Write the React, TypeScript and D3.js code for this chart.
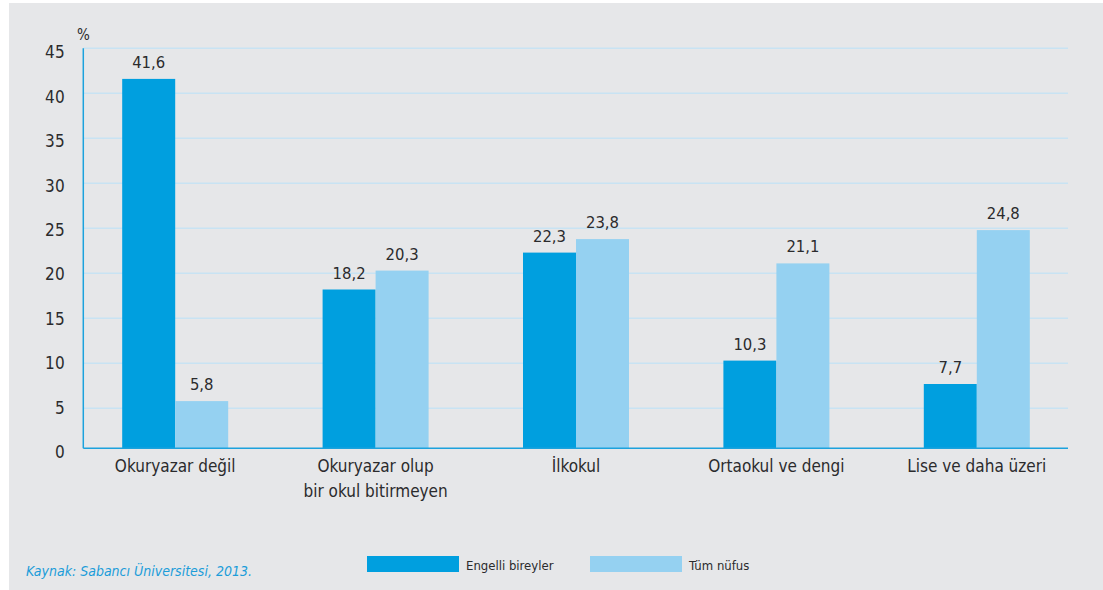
import React from "react";
import * as d3 from "d3";

// Education level distribution (%), disabled individuals vs. whole population
const categories = [
  "Okuryazar değil",
  "Okuryazar olup\nbir okul bitirmeyen",
  "İlkokul",
  "Ortaokul ve dengi",
  "Lise ve daha üzeri",
];
const seriesNames = ["Engelli bireyler", "Tüm nüfus"];
const engelliBireyler = [41.6, 18.2, 22.3, 10.3, 7.7];
const tumNufus = [5.8, 20.3, 23.8, 21.1, 24.8];
const yTicks = [0, 5, 10, 15, 20, 25, 30, 35, 40, 45];
const sourceNote = "Kaynak: Sabancı Üniversitesi, 2013.";

const W = 1103;
const H = 590;
const FONT = "'Liberation Sans Narrow', 'DejaVu Sans Condensed', sans-serif";
const TEXT = "#2b2b2d";
const DARK = "#009fdf";
const LIGHT = "#95d1f1";
const GRID = "#c8e3f3";
const AXIS = "#1ca2dd";

export default function App() {
  const values = [engelliBireyler, tumNufus];
  const colors = [DARK, LIGHT];

  const x0 = d3.scaleBand<string>().domain(categories).range([75, 1077]).padding(0);
  const groupW = 106;
  const x1 = d3.scaleBand<string>().domain(seriesNames).range([0, groupW]).padding(0);
  const y = d3.scaleLinear().domain([0, 45]).range([453.3, 48.3]);
  const yLabel = d3.scaleLinear().domain([0, 45]).range([458, 58.3]);

  const plotLeft = 83.3;
  const plotRight = 1068;
  const baseY = 448.3;

  const fmt = (v: number) => v.toFixed(1).replace(".", ",");

  return (
    <svg
      width={W}
      height={H}
      style={{ position: "absolute", left: 0, top: 0, display: "block" }}
      fontFamily={FONT}
    >
      <rect x={0} y={0} width={W} height={H} fill="#ffffff" />
      <rect x={9} y={3} width={W - 9} height={H - 3} fill="#e6e7e9" />

      {/* horizontal gridlines */}
      {yTicks
        .filter((t) => t > 0)
        .map((t) => (
          <line
            key={t}
            x1={plotLeft}
            x2={plotRight}
            y1={y(t)}
            y2={y(t)}
            stroke={GRID}
            strokeWidth={1.5}
          />
        ))}

      {/* y tick labels */}
      {yTicks.map((t) => (
        <text
          key={t}
          x={65}
          y={yLabel(t)}
          textAnchor="end"
          fontSize={17}
          letterSpacing={0.3}
          fill={TEXT}
        >
          {t}
        </text>
      ))}
      <text x={77} y={40} fontSize={15} fill={TEXT}>
        %
      </text>

      {/* bars */}
      {categories.map((c, i) => {
        const gx = (x0(c) ?? 0) + x0.bandwidth() / 2 - groupW / 2;
        return (
          <g key={c}>
            {seriesNames.map((s, k) => {
              const v = values[k][i];
              const bx = gx + (x1(s) ?? 0);
              const top = y(v);
              return (
                <g key={s}>
                  <rect
                    x={bx}
                    y={top}
                    width={x1.bandwidth()}
                    height={baseY - top}
                    fill={colors[k]}
                  />
                  <text
                    x={bx + x1.bandwidth() / 2}
                    y={top - 11}
                    textAnchor="middle"
                    fontSize={16.5}
                    fill={TEXT}
                  >
                    {fmt(v)}
                  </text>
                </g>
              );
            })}
          </g>
        );
      })}

      {/* axes */}
      <line x1={plotLeft} x2={plotLeft} y1={48.3} y2={baseY} stroke={AXIS} strokeWidth={1.5} />
      <line x1={plotLeft} x2={plotRight} y1={baseY} y2={baseY} stroke={AXIS} strokeWidth={1.5} />

      {/* category labels */}
      {categories.map((c) => {
        const cx = (x0(c) ?? 0) + x0.bandwidth() / 2;
        return (
          <text
            key={c}
            x={cx}
            y={472}
            textAnchor="middle"
            fontSize={17}
            fill={TEXT}
          >
            {c.split("\n").map((line, j) => (
              <tspan key={j} x={cx} dy={j === 0 ? 0 : 25}>
                {line}
              </tspan>
            ))}
          </text>
        );
      })}

      {/* legend */}
      {seriesNames.map((s, k) => {
        const lx = [367, 590][k];
        return (
          <g key={s}>
            <rect x={lx} y={556} width={92} height={16} fill={colors[k]} />
            <text x={lx + 99} y={569.5} fontSize={13} fill={TEXT}>
              {s}
            </text>
          </g>
        );
      })}

      {/* source */}
      <text x={26} y={576} fontSize={14} fontStyle="italic" fill="#1c9dd9">
        {sourceNote}
      </text>
    </svg>
  );
}
